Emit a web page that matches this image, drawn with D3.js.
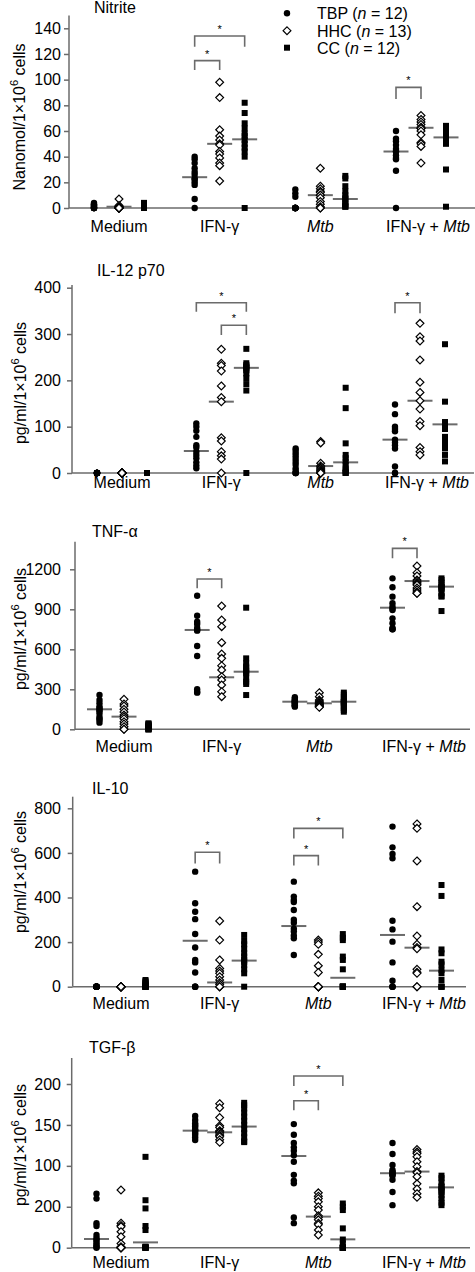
<!DOCTYPE html>
<html><head><meta charset="utf-8">
<script src="https://cdn.jsdelivr.net/npm/d3@7"></script>
<style>body{margin:0;background:#fff}svg{display:block}text{font-family:"Liberation Sans",Arial,sans-serif}</style>
</head><body><svg id="c" width="475" height="1272"></svg>
<script>
// ---------- DATA ----------
const categories = ["Medium", "IFN-γ", "Mtb", "IFN-γ + Mtb"];
const seriesNames = ["TBP", "HHC", "CC"];
const seriesN = [12, 13, 12];
const panelTitles = ["Nitrite", "IL-12 p70", "TNF-α", "IL-10", "TGF-β"];
const yAxisLabels = ["Nanomol/1×10", "pg/ml/1×10", "pg/ml/1×10", "pg/ml/1×10", "pg/ml/1×10"];
const yTickValues = [[0,20,40,60,80,100,120,140],[0,100,200,300,400],[0,300,600,900,1200],[0,200,400,600,800],[0,50,100,150,200]];
const yTickLabels = [["0","20","40","60","80","100","120","140"],["0","100","200","300","400"],["0","300","600","900","1200"],["0","200","400","600","800"],["0","200","100","150","200"]];

// Nitrite
const nitriteTBP = [[0,0,0,0,0,1,1,2,2,3,3,4],[40,38,35,31,28,26,23,22,20,18,7,0],[14.5,11.4,8.8,0,0,0,0,0,0,0,0,0],[60,54,52,49,46,44,44,41,39,38,29,0]];
const nitriteHHC = [[7,2,1,1,1,0,0,0,0,0,0,0,0],[98,86,61,56,53,50,49,44,42,39,35,33,21],[31,17,15,13,12,10,10,8,5,3,1,0,0],[72,69,67,65,63,62,62,60,57,51,50,48,35]];
const nitriteCC = [[4,3,2,2,1,1,1,0,0,0,0,0],[82,74,66,62,58,56,53,50,47,44,40,0],[25,23,17,13,10,8,7,5,3,2,1,1],[64,62,60,58,56,55,55,53,51,50,30,1]];
const nitriteMedians = [[null,24,null,44],[1,50,10,62.5],[null,53.5,7,55]];
// IL-12 p70
const il12TBP = [[0,0,0,0,0,0,0,0,0,0,0,0],[107,100,91,78,60,55,46,39,32,23,16,10],[53,48,42,36,30,24,18,10,5,0,0,0],[148,127,100,95,90,72,66,60,53,14,0,0]];
const il12HHC = [[0,0,0,0,0,0,0,0,0,0,0,0,0],[267,237,232,220,188,163,154,76,69,46,37,30,0],[68,65,21,15,13,10,7,5,3,0,0,0,0],[323,294,285,244,196,174,156,138,111,102,55,46,39]];
const il12CC = [[0,0,0,0,0,0,0,0,0,0,0,0],[268,237,233,230,228,226,222,215,205,192,178,0],[184,140,64,39,32,25,17,10,5,3,0,0],[278,154,110,104,100,95,78,71,64,53,39,25]];
const il12Medians = [[null,47.5,null,72],[null,154,15,156],[null,227,23,105]];
// TNF-alpha
const tnfTBP = [[257,220,195,170,160,145,140,120,95,80,70,50],[1002,852,807,790,760,745,740,625,550,300,280,275],[240,230,220,215,210,205,200,195,185,180,175,170],[1132,1065,995,945,920,905,895,832,795,760,750,750]];
const tnfHHC = [[225,190,175,150,130,107,95,80,57,40,20,0,0],[925,820,770,650,565,532,477,445,395,370,332,282,245],[275,245,220,210,200,195,190,185,180,175,170,170,165],[1225,1175,1150,1120,1110,1100,1090,1082,1060,1045,1030,1020,1020]];
const tnfCC = [[45,40,35,30,25,20,15,10,5,0,0,0],[912,532,495,470,457,440,425,420,382,357,340,257],[275,260,240,225,210,205,200,190,175,160,145,132],[1132,1120,1100,1080,1070,1065,1060,1050,1020,1000,995,887]];
const tnfMedians = [[150,745,207,912],[95,390,195,1112],[null,432,207,1070]];
// IL-10
const il10TBP = [[0,0,0,0,0,0,0,0,0,0,0,0],[516,374,336,303,236,176,120,109,64,0,0,0],[471,404,389,380,344,300,287,260,247,230,217,142],[718,625,595,576,296,257,202,109,27,0,0,0]];
const il10HHC = [[0,0,0,0,0,0,0,0,0,0,0,0,0],[295,209,120,82,70,60,45,30,18,10,0,0,0],[209,200,190,145,94,64,0,0,0,0,0,0,0],[730,710,564,359,227,190,176,170,78,65,60,0,0]];
const il10CC = [[30,25,20,15,10,5,0,0,0,0,0,0],[232,205,190,170,150,135,120,112,97,78,60,0],[236,220,209,135,120,78,0,0,0,0,0,0],[456,407,167,150,112,100,75,60,30,0,0,0]];
const il10Medians = [[null,206,272,232],[null,19,null,175],[null,117,40,72]];
// TGF-beta
const tgfTBP = [[66,60,30,26.5,15.5,12,10,8,5,3,1,0],[161,156,152,150,148,145,143,143,140,138,135,131.6],[151,138,128,122.6,118.5,113,105,89,82,78.6,37,30],[128,114.5,101,95,93,92,90,89,88,83,68,52]];
const tgfHHC = [[70.5,30,27,25.7,19.5,13.4,5,1.2,0,0,0,0,0],[176,171,159,149,147,143,141.8,141,139,137,135.6,132,128.7],[67,63,60,56,50,46,39,37,34,30,28,21.6,15.5],[120,117,115,111,105,99,93,91.6,86.8,78,71.7,66,61.5]];
const tgfCC = [[111,58,48,26.5,21.6,1.2,1,0,0,0,0,0],[177,174,170,165,160,155,150,145,140,135,130,129],[54,50,46,23.6,10,5.3,0,0,0,0,0,0],[88,85,80,75,74,72,70,68,64,60,55,52]];
const tgfMedians = [[10.6,143,112,91],[null,141,38,93],[6.5,148,10.2,73.7]];

// significance brackets: [category, seriesA, seriesB, topValue, legValue]
const nitriteSig = [[1,0,2,134,125.7],[1,0,1,114.8,107.5],[3,0,1,94,85]];
const il12Sig = [[1,0,2,367.6,348],[1,1,2,319,298],[3,0,1,367.6,344.6]];
const tnfSig = [[1,0,1,1127,1057],[3,0,1,1357,1282]];
const il10Sig = [[1,0,1,603,553],[2,0,1,588,543],[2,0,2,710,665]];
const tgfSig = [[2,0,1,179.6,168],[2,0,2,209.8,197.5]];

const panelSeries = [[nitriteTBP,nitriteHHC,nitriteCC],[il12TBP,il12HHC,il12CC],[tnfTBP,tnfHHC,tnfCC],[il10TBP,il10HHC,il10CC],[tgfTBP,tgfHHC,tgfCC]];
const panelMedians = [nitriteMedians, il12Medians, tnfMedians, il10Medians, tgfMedians];
const panelSig = [nitriteSig, il12Sig, tnfSig, il10Sig, tgfSig];

// ---------- LAYOUT ----------
const layout = [
  {axisX:69, xEnd:475, y0:208, refPx:28.3, topPx:15.5, centers:[119,219,320,421], off:25, labelY:232, titleX:94, titleY:13, ylabX:25, ylabY:117},
  {axisX:72, xEnd:474, y0:473, refPx:287.7, topPx:285, centers:[122,222,321,420], off:25, labelY:487.5, titleX:97, titleY:276, ylabX:26, ylabY:383},
  {axisX:75, xEnd:470, y0:729.3, refPx:569.3, topPx:541.7, centers:[124,221,318,417], off:24.5, labelY:752, titleX:92, titleY:537, ylabX:26, ylabY:629},
  {axisX:72.7, xEnd:466, y0:986.7, refPx:808.3, topPx:796.7, centers:[121,219,318,417], off:24.5, labelY:1009, titleX:92, titleY:794, ylabX:26, ylabY:872},
  {axisX:71.7, xEnd:470, y0:1247.7, refPx:1084, topPx:1058, centers:[121,219,318,417], off:24.5, labelY:1268, titleX:89, titleY:1053, ylabX:26, ylabY:1145}
];
const GRAY = "#6b6b6b";
const svg = d3.select("#c");

function drawMarker(g, s, x, y) {
  if (s === 0) g.append("circle").attr("cx", x).attr("cy", y).attr("r", 3.2).attr("fill", "#000");
  else if (s === 1) g.append("path").attr("d", `M${x},${y-3.9}L${x+3.9},${y}L${x},${y+3.9}L${x-3.9},${y}Z`).attr("fill", "#fff").attr("stroke", "#000").attr("stroke-width", 1.2);
  else g.append("rect").attr("x", x-3).attr("y", y-3).attr("width", 6).attr("height", 6).attr("fill", "#000");
}

panelSeries.forEach((series, p) => {
  const L = layout[p];
  const ticks = yTickValues[p];
  const refVal = ticks[ticks.length - 1];
  const y = d3.scaleLinear().domain([0, refVal]).range([L.y0, L.refPx]);
  const xc = d3.scalePoint().domain(categories).range([L.centers[0], L.centers[3]]);
  const xs = d3.scalePoint().domain(seriesNames).range([-L.off, L.off]);
  const g = svg.append("g");

  // y axis
  const ax = g.append("g").attr("transform", `translate(${L.axisX},0)`)
    .call(d3.axisLeft(y).tickValues(ticks).tickFormat((d, i) => yTickLabels[p][i]).tickSize(5).tickSizeOuter(0).tickPadding(L.axisX - 61 - 5));
  ax.select(".domain").remove();
  ax.selectAll(".tick line").attr("stroke", GRAY).attr("stroke-width", 1.5);
  ax.selectAll(".tick text").attr("font-size", 16).attr("fill", "#000").attr("font-family", '"Liberation Sans",Arial,sans-serif');
  g.append("line").attr("x1", L.axisX).attr("x2", L.axisX).attr("y1", L.y0).attr("y2", L.topPx).attr("stroke", GRAY).attr("stroke-width", 1.5);
  // x axis line
  g.append("line").attr("x1", L.axisX).attr("x2", L.xEnd).attr("y1", L.y0).attr("y2", L.y0).attr("stroke", GRAY).attr("stroke-width", 1.5);

  // category labels
  categories.forEach((c, ci) => {
    const t = g.append("text").attr("x", xc(c) + (ci === 3 ? 7 : 0)).attr("y", L.labelY).attr("text-anchor", "middle").attr("font-size", 16);
    if (c === "Mtb") t.append("tspan").attr("font-style", "italic").text("Mtb");
    else if (c === "IFN-γ + Mtb") { t.append("tspan").text("IFN-γ + "); t.append("tspan").attr("font-style", "italic").text("Mtb"); }
    else t.text(c);
  });

  // title
  g.append("text").attr("x", L.titleX).attr("y", L.titleY).attr("font-size", 16).text(panelTitles[p]);
  // y label
  const yl = g.append("text").attr("transform", `translate(${L.ylabX},${L.ylabY}) rotate(-90)`).attr("text-anchor", "middle").attr("font-size", 16);
  yl.append("tspan").text(yAxisLabels[p]);
  yl.append("tspan").attr("font-size", 11).attr("dy", -7).text("6");
  yl.append("tspan").attr("dy", 7).text(" cells");

  // medians (under markers)
  seriesNames.forEach((s, si) => {
    categories.forEach((c, ci) => {
      const m = panelMedians[p][si][ci];
      if (m === null) return;
      const cx = xc(c) + xs(s);
      g.append("line").attr("x1", cx - 12.5).attr("x2", cx + 12.5).attr("y1", y(m)).attr("y2", y(m)).attr("stroke", GRAY).attr("stroke-width", 2);
    });
  });
  // points
  series.forEach((arr, si) => {
    arr.forEach((vals, ci) => {
      const cx = xc(categories[ci]) + xs(seriesNames[si]);
      vals.forEach(v => drawMarker(g, si, cx, y(v)));
    });
  });
  // brackets
  panelSig[p].forEach(([ci, a, b, top, leg]) => {
    const x1 = xc(categories[ci]) + xs(seriesNames[a]);
    const x2 = xc(categories[ci]) + xs(seriesNames[b]);
    g.append("path").attr("d", `M${x1},${y(leg)}V${y(top)}H${x2}V${y(leg)}`).attr("fill", "none").attr("stroke", GRAY).attr("stroke-width", 1.6);
    g.append("text").attr("x", (x1 + x2) / 2).attr("y", y(top) - 3).attr("text-anchor", "middle").attr("font-size", 11).text("*");
  });
});

// legend
const legY = [13.3, 30.7, 47.7];
const lg = svg.append("g");
seriesNames.forEach((s, i) => {
  drawMarker(lg, i, 287, legY[i]);
  const t = lg.append("text").attr("x", 317).attr("y", legY[i] + 6).attr("font-size", 16);
  t.append("tspan").text(s + " (");
  t.append("tspan").attr("font-style", "italic").text("n");
  t.append("tspan").text(" = " + seriesN[i] + ")");
});
</script></body></html>
